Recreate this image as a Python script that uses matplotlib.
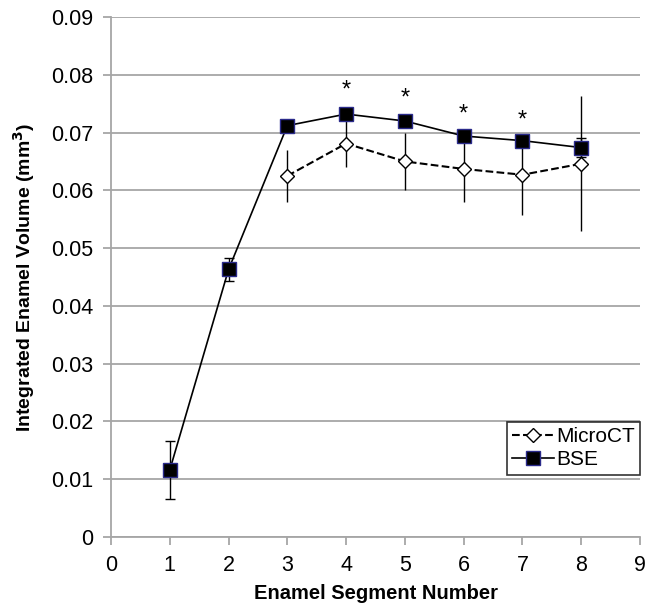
import matplotlib.pyplot as plt

plt.rcParams['font.family'] = ['Liberation Sans', 'DejaVu Sans']

segments = [1, 2, 3, 4, 5, 6, 7, 8]
bse = [0.0116, 0.0463, 0.0712, 0.0732, 0.0720, 0.0694, 0.0686, 0.0674]
bse_err = [0.0050, 0.0020, 0.0004, 0.0004, 0.0004, 0.0004, 0.0004, 0.0017]
micro_x = [3, 4, 5, 6, 7, 8]
micro = [0.0625, 0.0681, 0.0650, 0.0637, 0.0627, 0.0646]
micro_err = [0.0045, 0.0041, 0.0050, 0.0058, 0.0069, 0.0117]
star_x = [4, 5, 6, 7]
star_y = [0.0782, 0.0768, 0.0740, 0.0730]

fig = plt.figure(figsize=(6.48, 6.06), dpi=100)
ax = fig.add_axes([111 / 648, 69 / 606, 529 / 648, 520 / 606])

grid_c = '#a6a6a6'
ax.set_axisbelow(True)
ax.yaxis.grid(True, color=grid_c, linewidth=1.3)

ax.errorbar(micro_x, micro, yerr=micro_err, fmt='none', ecolor='black',
            elinewidth=1, capsize=0, zorder=2)
ax.plot(micro_x, micro, linestyle='--', color='black', linewidth=1.5,
        marker='D', markersize=7, markerfacecolor='white',
        markeredgecolor='black', markeredgewidth=1, label='MicroCT', zorder=3)
ax.errorbar(segments, bse, yerr=bse_err, fmt='none', ecolor='black',
            elinewidth=1, capsize=3.5, capthick=1, zorder=4)
ax.plot(segments, bse, linestyle='-', color='black', linewidth=1.2,
        marker='s', markersize=9.5, markerfacecolor='black',
        markeredgecolor='#2a2a8a', markeredgewidth=1, label='BSE', zorder=5)

# significance stars (glyph sits high in its box, so nudge down)
for sx, sy in zip(star_x, star_y):
    ax.annotate('*', (sx, sy), xytext=(0, -4), textcoords='offset points',
                ha='center', va='center', fontsize=17)

ax.set_xlim(0, 9)
ax.set_ylim(0, 0.09)
ax.set_xticks(range(10))
ax.set_yticks([i / 100 for i in range(10)])
ax.set_yticklabels(['0'] + ['%.2f' % (i / 100) for i in range(1, 10)])

for s in ['top', 'right']:
    ax.spines[s].set_visible(False)
for s in ['left', 'bottom']:
    ax.spines[s].set_color(grid_c)
    ax.spines[s].set_linewidth(1.3)
ax.tick_params(axis='both', direction='out', color=grid_c, width=1.3,
               length=6, labelsize=15.5, pad=7)

ax.set_xlabel('Enamel Segment Number', fontsize=14.5, fontweight='bold',
              labelpad=6)
ax.set_ylabel('Integrated Enamel Volume (mm$^\\mathbf{3}$)', fontsize=14,
              fontweight='bold', labelpad=10)

leg = ax.legend(loc='lower right', bbox_to_anchor=(1.0, 0.12), fontsize=15,
                frameon=True, fancybox=False, handlelength=2.0,
                handletextpad=0.1, borderpad=0.25, labelspacing=0.2,
                borderaxespad=0)
leg.get_frame().set_edgecolor('black')
leg.get_frame().set_linewidth(1.2)

fig.savefig('out.png', dpi=100)
